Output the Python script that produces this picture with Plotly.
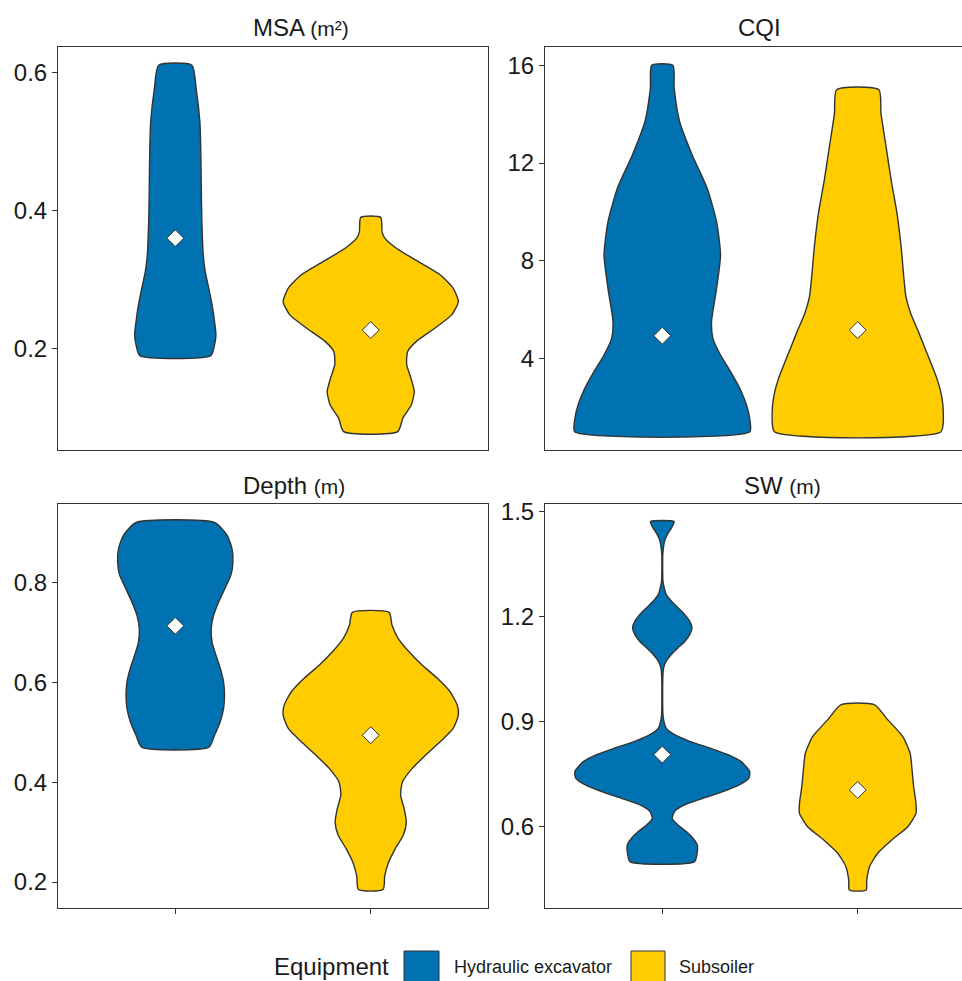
import plotly.graph_objects as go

# ---------------- data ----------------
equipment = ["Hydraulic excavator", "Subsoiler"]
colors = ["#0072B2", "#FFCC00"]
positions = [1, 2]

# violin outlines: y levels (bottom -> top) and half-widths (category units)
msa_hyd_y = [0.190, 0.206, 0.220, 0.239, 0.264, 0.288, 0.312, 0.336, 0.384, 0.432, 0.480, 0.528, 0.576, 0.610]
msa_hyd_w = [0.182, 0.201, 0.208, 0.201, 0.188, 0.171, 0.153, 0.143, 0.136, 0.133, 0.131, 0.126, 0.107, 0.085]
msa_sub_y = [0.080, 0.100, 0.119, 0.138, 0.158, 0.177, 0.196, 0.211, 0.230, 0.249, 0.268, 0.288, 0.307, 0.326, 0.345, 0.360, 0.369, 0.390]
msa_sub_w = [0.138, 0.165, 0.208, 0.223, 0.205, 0.184, 0.189, 0.235, 0.329, 0.414, 0.448, 0.421, 0.355, 0.244, 0.133, 0.072, 0.058, 0.051]

cqi_hyd_y = [1.0, 1.54, 2.09, 2.77, 3.45, 4.14, 4.82, 5.50, 6.87, 8.23, 9.59, 10.96, 12.33, 13.69, 15.06, 16.0]
cqi_hyd_w = [0.448, 0.447, 0.431, 0.397, 0.350, 0.298, 0.259, 0.252, 0.278, 0.298, 0.278, 0.230, 0.153, 0.089, 0.061, 0.054]
cqi_sub_y = [1.0, 1.75, 2.43, 3.11, 3.80, 4.48, 5.16, 5.84, 6.52, 7.21, 8.57, 9.94, 11.30, 12.67, 14.03, 15.0]
cqi_sub_w = [0.426, 0.438, 0.430, 0.408, 0.375, 0.341, 0.307, 0.271, 0.247, 0.237, 0.222, 0.201, 0.171, 0.145, 0.119, 0.108]

depth_hyd_y = [0.470, 0.494, 0.521, 0.547, 0.574, 0.601, 0.628, 0.654, 0.681, 0.708, 0.734, 0.761, 0.788, 0.815, 0.841, 0.868, 0.895, 0.920]
depth_hyd_w = [0.172, 0.201, 0.230, 0.247, 0.252, 0.247, 0.230, 0.208, 0.188, 0.184, 0.196, 0.222, 0.254, 0.285, 0.295, 0.290, 0.264, 0.200]
depth_sub_y = [0.185, 0.213, 0.240, 0.267, 0.294, 0.320, 0.347, 0.374, 0.400, 0.427, 0.454, 0.481, 0.507, 0.534, 0.554, 0.581, 0.608, 0.634, 0.661, 0.688, 0.714, 0.740]
depth_sub_w = [0.063, 0.072, 0.092, 0.126, 0.167, 0.182, 0.171, 0.153, 0.162, 0.211, 0.280, 0.355, 0.421, 0.448, 0.443, 0.406, 0.341, 0.264, 0.196, 0.140, 0.109, 0.094]

sw_hyd_y = [0.500, 0.528, 0.548, 0.567, 0.586, 0.605, 0.624, 0.643, 0.662, 0.681, 0.700, 0.720, 0.739, 0.758, 0.786,
            0.806, 0.825, 0.844, 0.863, 0.882, 0.901, 0.920, 0.968, 1.035, 1.054, 1.073, 1.092, 1.111, 1.130, 1.149,
            1.169, 1.188, 1.207, 1.226, 1.245, 1.264, 1.283, 1.302, 1.350, 1.379, 1.398, 1.417, 1.436, 1.455, 1.472]
sw_hyd_w = [0.165, 0.179, 0.179, 0.157, 0.123, 0.080, 0.051, 0.063, 0.114, 0.208, 0.310, 0.396, 0.443, 0.447, 0.404,
            0.336, 0.242, 0.140, 0.063, 0.020, 0.0085, 0.0034, 0.002, 0.0034, 0.007, 0.020, 0.046, 0.080, 0.116, 0.140,
            0.152, 0.140, 0.114, 0.080, 0.046, 0.020, 0.010, 0.0034, 0.002, 0.0026, 0.006, 0.012, 0.027, 0.048, 0.061]
sw_sub_y = [0.419, 0.447, 0.485, 0.524, 0.562, 0.600, 0.638, 0.667, 0.715, 0.762, 0.810, 0.858, 0.906, 0.949]
sw_sub_w = [0.043, 0.046, 0.060, 0.102, 0.174, 0.256, 0.298, 0.298, 0.286, 0.278, 0.268, 0.230, 0.153, 0.085]

# group means (white diamonds)
msa_mean = [0.360, 0.227]
cqi_mean = [4.93, 5.16]
depth_mean = [0.713, 0.494]
sw_mean = [0.806, 0.705]

# axis ticks
msa_ticks = [0.2, 0.4, 0.6]
cqi_ticks = [4, 8, 12, 16]
depth_ticks = [0.2, 0.4, 0.6, 0.8]
sw_ticks = [0.6, 0.9, 1.2, 1.5]

panel_titles = ["MSA <span style='font-size:21px'>(m²)</span>", "CQI",
                "Depth <span style='font-size:21px'>(m)</span>", "SW <span style='font-size:21px'>(m)</span>"]

# ---------------- figure ----------------
W, H = 962, 981
FONT = "Liberation Sans, Arial, sans-serif"
EDGE = "#333333"

panels = [
    dict(ax="1", profiles=[(msa_hyd_y, msa_hyd_w), (msa_sub_y, msa_sub_w)], means=msa_mean,
         ticks=msa_ticks, fmt="{:.1f}", yr=[0.0535, 0.6365]),
    dict(ax="2", profiles=[(cqi_hyd_y, cqi_hyd_w), (cqi_sub_y, cqi_sub_w)], means=cqi_mean,
         ticks=cqi_ticks, fmt="{:d}", yr=[0.25, 16.75]),
    dict(ax="3", profiles=[(depth_hyd_y, depth_hyd_w), (depth_sub_y, depth_sub_w)], means=depth_mean,
         ticks=depth_ticks, fmt="{:.1f}", yr=[0.148, 0.957]),
    dict(ax="4", profiles=[(sw_hyd_y, sw_hyd_w), (sw_sub_y, sw_sub_w)], means=sw_mean,
         ticks=sw_ticks, fmt="{:.1f}", yr=[0.3675, 1.5225]),
]

fig = go.Figure()

for p in panels:
    xa = "x" if p["ax"] == "1" else "x" + p["ax"]
    ya = "y" if p["ax"] == "1" else "y" + p["ax"]
    for i, (ys, ws) in enumerate(p["profiles"]):
        pos = positions[i]
        xs = [pos + w for w in ws] + [pos - w for w in reversed(ws)] + [pos + ws[0]]
        yy = list(ys) + list(reversed(ys)) + [ys[0]]
        fig.add_trace(go.Scatter(
            x=xs, y=yy, xaxis=xa, yaxis=ya, mode="lines", fill="toself",
            fillcolor=colors[i], line=dict(color=EDGE, width=1.4, shape="spline", smoothing=0.6),
            name=equipment[i], showlegend=False, hoverinfo="skip"))
    fig.add_trace(go.Scatter(
        x=positions, y=p["means"], xaxis=xa, yaxis=ya, mode="markers",
        marker=dict(symbol="diamond", size=13, color="white", line=dict(color=EDGE, width=1)),
        showlegend=False, hoverinfo="skip"))

# layout geometry in pixels
def px_x(a, b):
    return [a / W, b / W]

def px_y(top, bottom):
    return [1 - bottom / H, 1 - top / H]

unit = 430 / 2.2
left_dom = px_x(58, 488)
right_dom = [545 / W, 1.0]
right_max = 0.4 + (W - 545) / unit
top_dom = px_y(47, 450)
bot_dom = px_y(504, 908)

axis_common = dict(showgrid=False, zeroline=False, showline=True, linecolor=EDGE, linewidth=1)
tickfont = dict(family=FONT, size=24, color="#1a1a1a")

layout = dict(width=W, height=H, margin=dict(l=0, r=0, t=0, b=0, autoexpand=False),
              paper_bgcolor="white", plot_bgcolor="white", showlegend=False)

specs = {
    "1": (left_dom, top_dom, [0.4, 2.6], True, False),
    "2": (right_dom, top_dom, [0.4, right_max], False, False),
    "3": (left_dom, bot_dom, [0.4, 2.6], True, True),
    "4": (right_dom, bot_dom, [0.4, right_max], False, True),
}
for p in panels:
    k = p["ax"]
    xd, yd, xr, ymirror, xticks = specs[k]
    xname = "xaxis" if k == "1" else "xaxis" + k
    yname = "yaxis" if k == "1" else "yaxis" + k
    anchor_x = "y" if k == "1" else "y" + k
    anchor_y = "x" if k == "1" else "x" + k
    layout[xname] = dict(domain=xd, range=xr, anchor=anchor_x, mirror=True,
                         tickvals=positions, ticktext=["", ""], showticklabels=False,
                         ticks="outside" if xticks else "", ticklen=5, tickcolor=EDGE, tickwidth=1,
                         **axis_common)
    layout[yname] = dict(domain=yd, range=p["yr"], anchor=anchor_y, mirror=ymirror,
                         tickvals=p["ticks"], ticktext=[p["fmt"].format(t) for t in p["ticks"]],
                         ticks="outside", ticklen=5, tickcolor=EDGE, tickwidth=1,
                         tickfont=tickfont, **axis_common)

fig.update_layout(**layout)

# panel titles
title_pos = [(300.5, 27), (759, 27), (294, 485), (782.5, 485)]
for t, (tx, ty) in zip(panel_titles, title_pos):
    fig.add_annotation(text=t, x=tx / W, y=1 - ty / H, xref="paper", yref="paper",
                       xanchor="center", yanchor="middle", showarrow=False,
                       font=dict(family=FONT, size=24, color="#1a1a1a"))

# legend (bottom)
fig.add_annotation(text="Equipment", x=272 / W, y=1 - 966 / H, xref="paper", yref="paper",
                   xanchor="left", yanchor="middle", showarrow=False,
                   font=dict(family=FONT, size=24, color="#1a1a1a"))
key_x = [(404, 439), (631, 665)]
label_x = [452, 677]
for i in range(2):
    x0, x1 = key_x[i]
    fig.add_shape(type="rect", xref="paper", yref="paper", x0=x0 / W, x1=x1 / W,
                  y0=1 - 986 / H, y1=1 - 951 / H, fillcolor=colors[i],
                  line=dict(color=EDGE, width=1))
    fig.add_annotation(text=equipment[i], x=label_x[i] / W, y=1 - 967 / H, xref="paper", yref="paper",
                       xanchor="left", yanchor="middle", showarrow=False,
                       font=dict(family=FONT, size=18, color="#1a1a1a"))

fig.write_html("out.html", config={"displayModeBar": False},
               post_script="document.documentElement.style.margin='0';document.body.style.margin='0';"
                           "document.body.style.padding='0';document.body.style.overflow='hidden';")
